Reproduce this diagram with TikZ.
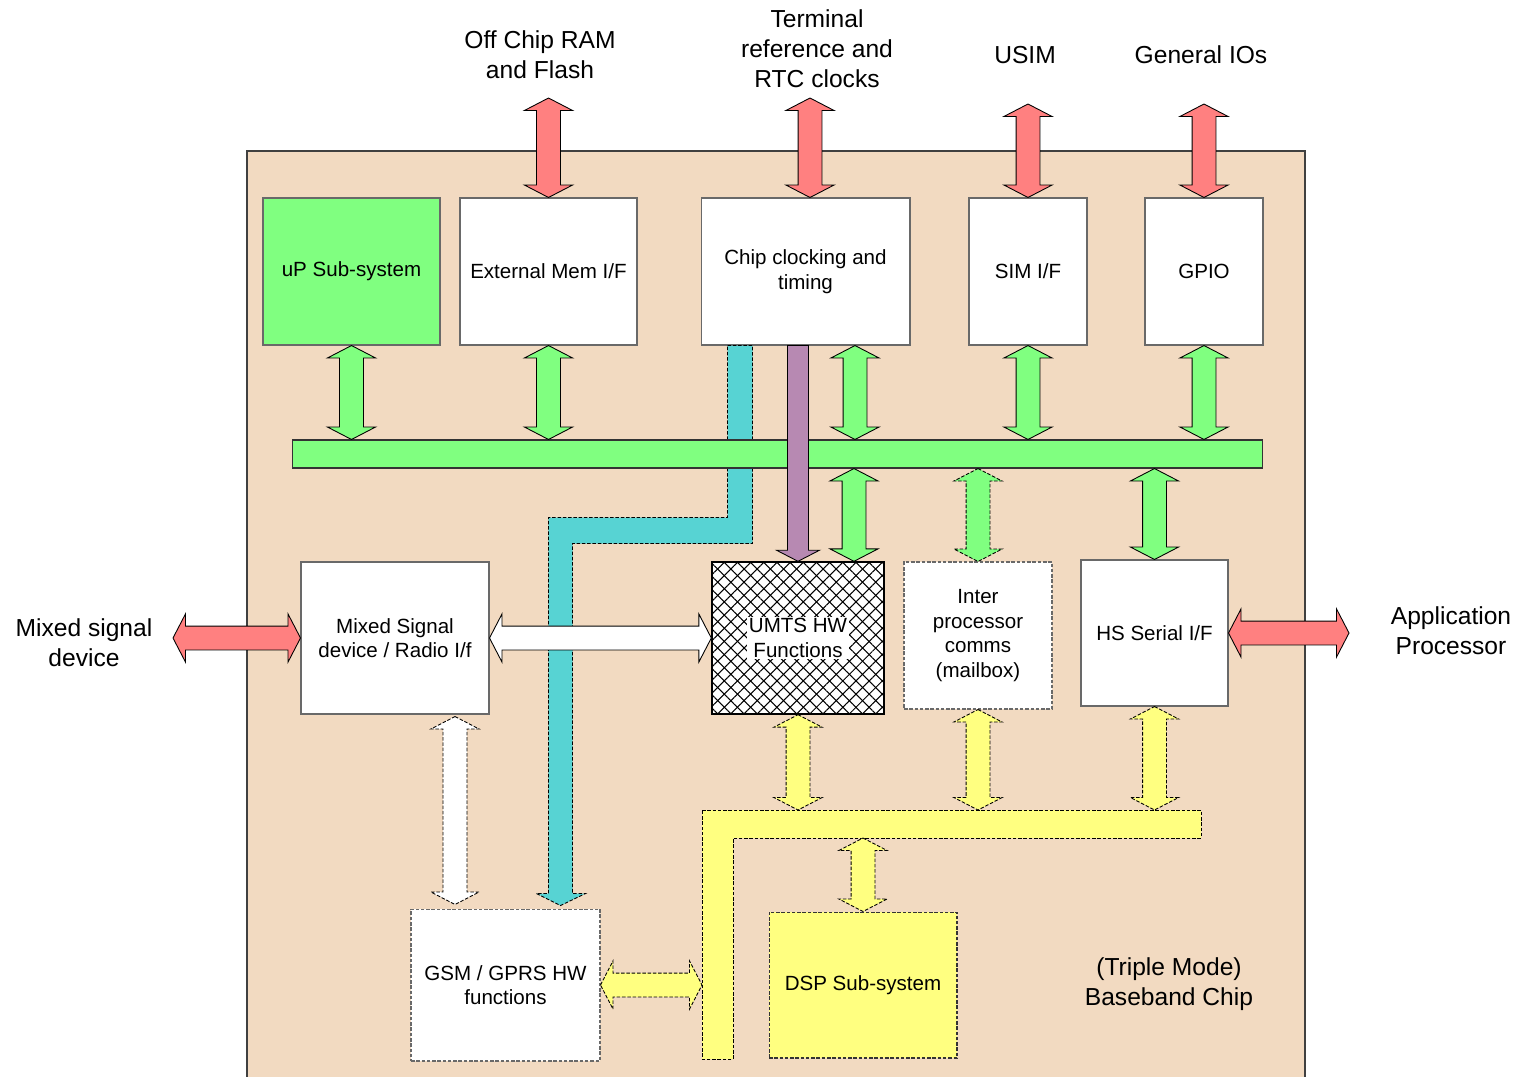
\documentclass[tikz,border=0pt]{standalone}
\usepackage{fontspec}
\setmainfont{Liberation Sans}
\usetikzlibrary{calc, patterns.meta}

\definecolor{chipbg}{RGB}{242, 218, 193}
\definecolor{busgreen}{RGB}{128, 255, 128}
\definecolor{linkred}{RGB}{255, 128, 128}
\definecolor{dspyellow}{RGB}{255, 255, 128}
\definecolor{clkteal}{RGB}{87, 211, 211}
\definecolor{clkpurple}{RGB}{183, 137, 178}
\definecolor{edgegray}{RGB}{105, 105, 105}

% vertical double block arrow: style, top point, bottom point
\newcommand{\vdbl}[3]{%
  \draw[#1] let \p1=#2, \p2=#3 in
    (\x1,\y1) -- ++(13.7pt,-7.1pt) -- ++(-6.9pt,0) -- (\x1+6.8pt,\y2+7.1pt) -- ++(6.9pt,0)
    -- (\x1,\y2) -- ++(-13.7pt,7.1pt) -- ++(6.9pt,0) -- (\x1-6.8pt,\y1-7.1pt) -- ++(-6.9pt,0) -- cycle;}
% horizontal double block arrow: style, left point, right point
\newcommand{\hdbl}[3]{%
  \draw[#1] let \p1=#2, \p2=#3 in
    (\x1,\y1) -- ++(7.1pt,13.7pt) -- ++(0,-6.9pt) -- (\x2-7.1pt,\y1+6.8pt) -- ++(0,6.9pt)
    -- (\x2,\y1) -- ++(-7.1pt,-13.7pt) -- ++(0,6.9pt) -- (\x1+7.1pt,\y1-6.8pt) -- ++(0,-6.9pt) -- cycle;}

\tikzset{
  box/.style={draw=edgegray, fill=white, line width=0.6pt, align=center, inner sep=2pt,
    font=\fontsize{11.7}{14}\selectfont},
  sz/.style 2 args={minimum width=#1cm, minimum height=#2cm},
  dashbox/.style={box, dash pattern=on 2pt off 1pt},
  outer/.style={align=center, font=\fontsize{14}{17}\selectfont},
  arr/.style={draw=black, line width=0.5pt, line join=miter},
  dasharr/.style={arr, dash pattern=on 2pt off 1pt},
}

\begin{document}
\begin{tikzpicture}[x=0.02cm, y=-0.02cm]
  \useasboundingbox (0,0) rectangle (1525,1076);

  % chip outline
  \draw[fill=chipbg, draw=black!75, line width=0.6pt] (247,151) rectangle (1305,1100);
  \node[outer] (chiplbl) at (1169,984) {(Triple Mode)\\Baseband Chip};

  % outside world
  \node[outer] (ramlbl) at (540,55) {Off Chip RAM\\and Flash};
  \node[outer] (rtclbl) at (817,49) {Terminal\\reference and\\RTC clocks};
  \node[outer] (usimlbl) at (1025,55) {USIM};
  \node[outer] (giolbl) at (1201,55) {General IOs};
  \node[outer] (mixlbl) at (84,643) {Mixed signal\\device};
  \node[outer] (applbl) at (1451,631) {Application\\Processor};
  \coordinate (ram) at (548.5,98);
  \coordinate (rtc) at (810,98);
  \coordinate (usim) at (1028,104);
  \coordinate (gio) at (1204,104);
  \coordinate (mix) at (173,638);
  \coordinate (app) at (1349,633);

  % top row blocks
  \node[box, fill=busgreen, sz={3.54}{2.94}] (up) at (351.5,271.5) {uP Sub-system};
  \node[box, sz={3.54}{2.94}] (ext) at (548.5,271.5) {External Mem I/F};
  \node[box, sz={4.18}{2.94}] (clk) at (805.5,271.5) {Chip clocking and\\timing};
  \node[box, sz={2.36}{2.94}] (sim) at (1028,271.5) {SIM I/F};
  \node[box, sz={2.36}{2.94}] (gpio) at (1204,271.5) {GPIO};

  % middle row blocks
  \node[box, sz={3.76}{3.04}] (msd) at (395,638) {Mixed Signal\\device / Radio I/f};
  \node[box, draw=black, line width=0.8pt, sz={3.44}{3.04},
    postaction={pattern={Lines[angle=45, distance=5.3pt, line width=0.6pt]}},
    postaction={pattern={Lines[angle=-45, distance=5.3pt, line width=0.6pt]}}] (umts) at (798,638) {};
  \node[fill=white, inner sep=1pt, align=center, font=\fontsize{11.7}{14}\selectfont] (umtslbl) at (umts) {UMTS HW\\Functions};
  \node[dashbox, sz={2.96}{2.94}] (ipc) at (978,635.5) {Inter\\processor\\comms\\(mailbox)};
  \node[box, sz={2.94}{2.92}] (hss) at (1154.5,633) {HS Serial I/F};

  % bottom row blocks
  \node[dashbox, sz={3.78}{3.04}] (gsm) at (505.5,985) {GSM / GPRS HW\\functions};
  \node[dashbox, draw=black!80, fill=dspyellow, sz={3.76}{2.92}] (dsp) at (863,985) {DSP Sub-system};

  % clock feed to GSM block (under the bus)
  \draw[arr, fill=clkteal, dash pattern=on 2pt off 1pt] (clk.south west) ++(27,0) -- ++(25,0) -- ++(0,198)
    -- ++(-180,0) -- ++(0,350) -- ++(13,0) -- ++(-25,12) -- ++(-24,-12) -- ++(12,0)
    -- ++(0,-376) -- ++(179,0) -- cycle;

  % system bus
  \node[draw=black!80, fill=busgreen, line width=0.6pt, minimum width=19.42cm, minimum height=0.56cm,
    inner sep=0pt] (bus) at (777.5,454) {};

  % clock feed to UMTS block
  \draw[arr, fill=clkpurple] let \p1=(umts.north |- clk.south), \p2=(umts.north) in
    (\x1-6pt,\y1) -- (\x1+6pt,\y1) -- (\x1+6pt,\y2+6.3pt) -- ++(6.2pt,0) -- (\x1,\y2)
    -- (\x1-12.2pt,\y2+6.3pt) -- ++(6.2pt,0) -- cycle;

  % DSP bus
  \coordinate (ybus) at (702,810);
  \coordinate (ybin) at (733,838);
  \draw[dasharr, fill=dspyellow] (ybus) -- ++(499,0) -- ++(0,28) -- (ybin) -- ++(0,221)
    -- ++(-31,0) -- cycle;

  % external links
  \vdbl{arr, fill=linkred}{(ram)}{(ext.north)}
  \vdbl{arr, fill=linkred}{(rtc)}{(rtc |- clk.north)}
  \vdbl{arr, fill=linkred}{(usim)}{(sim.north)}
  \vdbl{arr, fill=linkred}{(gio)}{(gpio.north)}
  \hdbl{arr, fill=linkred}{(mix)}{(msd.west)}
  \hdbl{arr, fill=linkred}{(hss.east)}{(app)}

  % system bus links
  \vdbl{arr, fill=busgreen}{(up.south)}{(up.south |- bus.north)}
  \vdbl{arr, fill=busgreen}{(ext.south)}{(ext.south |- bus.north)}
  \vdbl{arr, fill=busgreen}{($(clk.south)+(49.5,0)$)}{(clk.south |- bus.north)}
  \vdbl{arr, fill=busgreen}{(sim.south)}{(sim.south |- bus.north)}
  \vdbl{arr, fill=busgreen}{(gpio.south)}{(gpio.south |- bus.north)}
  \vdbl{arr, fill=busgreen}{($(bus.south -| umts.north)+(56,0)$)}{(umts.north)}
  \vdbl{dasharr, fill=busgreen}{(bus.south -| ipc.north)}{(ipc.north)}
  \vdbl{arr, fill=busgreen}{(bus.south -| hss.north)}{(hss.north)}

  % radio links
  \hdbl{arr, fill=white}{(msd.east)}{(umts.west)}
  \coordinate (rad) at ($(msd.south)+(60,2)$);
  \vdbl{dasharr, fill=white}{(rad)}{($(gsm.north)+(0,-4)$)}

  % DSP bus links
  \vdbl{dasharr, fill=dspyellow}{(umts.south)}{(umts.south |- ybus)}
  \vdbl{dasharr, fill=dspyellow}{(ipc.south)}{(ipc.south |- ybus)}
  \vdbl{dasharr, fill=dspyellow}{(hss.south)}{(hss.south |- ybus)}
  \vdbl{dasharr, fill=dspyellow}{(dsp.north |- ybin)}{(dsp.north)}
  \hdbl{dasharr, fill=dspyellow}{(gsm.east)}{(gsm.east -| ybus)}
\end{tikzpicture}
\end{document}
